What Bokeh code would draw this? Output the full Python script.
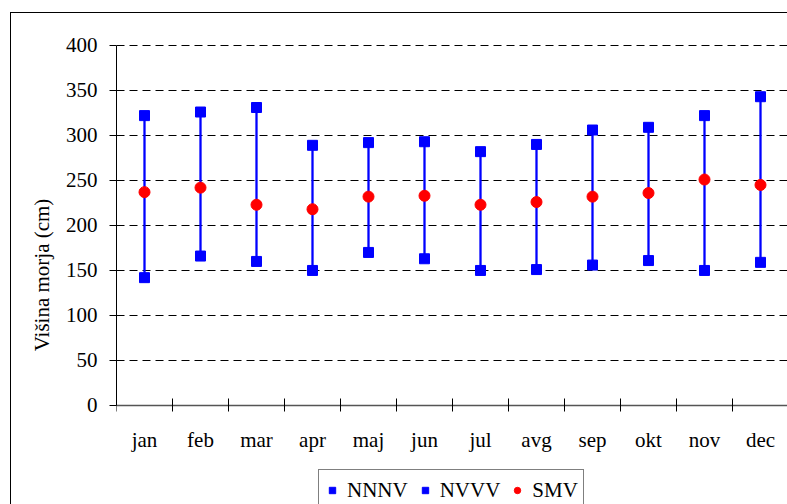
from bokeh.plotting import figure
from bokeh.models import (Range1d, FixedTicker, Legend, LegendItem, ColumnDataSource)
from bokeh.embed import file_html
from bokeh.resources import INLINE

months = ["jan", "feb", "mar", "apr", "maj", "jun", "jul", "avg", "sep", "okt", "nov", "dec"]
nnnv = [142, 166, 160, 150, 170, 163, 150, 151, 156, 161, 150, 159]
nvvv = [322, 326, 331, 289, 292, 293, 282, 290, 306, 309, 322, 343]
smv = [237, 242, 223, 218, 232, 233, 223, 226, 232, 236, 251, 245]
y_ticks = [0, 50, 100, 150, 200, 250, 300, 350, 400]

FONT = "Liberation Serif"
BLUE = "#0000FF"
RED = "#FF0000"

xs = [i + 0.5 for i in range(len(months))]
src = ColumnDataSource(dict(x=xs, lo=nnnv, hi=nvvv, mid=smv))

# frame reaches the bottom of the figure; the x axis sits at y = 0 inside it
p = figure(width=777, height=492, x_range=Range1d(0, len(months)), y_range=Range1d(-111.1, 401),
           output_backend="svg", toolbar_location=None,
           min_border_left=105, min_border_right=0, min_border_top=31, min_border_bottom=0)
p.margin = (12, 0, 0, 10)
p.outline_line_color = None
p.background_fill_color = "white"
p.border_fill_color = "white"
p.styles = {"border-top": "1.5px solid black", "border-left": "1.5px solid black"}

# axes
p.yaxis.bounds = (0, 400)
p.yaxis.ticker = FixedTicker(ticks=y_ticks)
p.yaxis.major_tick_out = 7
p.yaxis.major_tick_in = 0
p.yaxis.minor_tick_out = 0
p.yaxis.minor_tick_in = 0
p.yaxis.axis_line_color = "black"
p.yaxis.major_tick_line_color = "black"
p.yaxis.major_label_text_font = FONT
p.yaxis.major_label_text_font_size = "21px"
p.yaxis.major_label_text_color = "black"
p.yaxis.major_label_standoff = 12
p.yaxis.axis_label = "Višina morja (cm)"
p.yaxis.axis_label_text_font = FONT
p.yaxis.axis_label_text_font_size = "21px"
p.yaxis.axis_label_text_font_style = "normal"
p.yaxis.axis_label_text_color = "black"
p.yaxis.axis_label_standoff = 9

p.xaxis.fixed_location = 0
p.xaxis.ticker = FixedTicker(ticks=xs, minor_ticks=list(range(len(months) + 1)))
p.xaxis.major_label_overrides = {x: m for x, m in zip(xs, months)}
p.xaxis.major_tick_in = 0
p.xaxis.major_tick_out = 0
p.xaxis.minor_tick_in = 7
p.xaxis.minor_tick_out = 6
p.xaxis.minor_tick_line_color = "black"
p.xaxis.axis_line_color = "#555555"
p.xaxis.axis_line_width = 1.5
p.xaxis.major_label_text_font = FONT
p.xaxis.major_label_text_font_size = "21px"
p.xaxis.major_label_text_color = "black"
p.xaxis.major_label_standoff = 17

p.xgrid.visible = False
p.ygrid.ticker = FixedTicker(ticks=y_ticks[1:])
p.ygrid.grid_line_color = "black"
p.ygrid.grid_line_dash = "8 5"
p.ygrid.grid_line_width = 1

# glyphs
p.segment(x0="x", y0="lo", x1="x", y1="hi", source=src, line_color=BLUE, line_width=2.3)
r_lo = p.scatter("x", "lo", source=src, marker="square", size=10, fill_color=BLUE, line_color=BLUE)
r_hi = p.scatter("x", "hi", source=src, marker="square", size=10, fill_color=BLUE, line_color=BLUE)
r_mid = p.scatter("x", "mid", source=src, marker="circle", size=11, fill_color=RED, line_color=RED)

legend = Legend(items=[LegendItem(label="NNNV", renderers=[r_lo]),
                       LegendItem(label="NVVV", renderers=[r_hi]),
                       LegendItem(label="SMV", renderers=[r_mid])],
                orientation="horizontal", location=(202, -6))
legend.border_line_color = "black"
legend.border_line_width = 1
legend.background_fill_color = "white"
legend.background_fill_alpha = 1
legend.label_text_font = FONT
legend.label_text_font_size = "21px"
legend.label_text_color = "black"
legend.padding = 5
legend.margin = 0
legend.glyph_width = 16
legend.glyph_height = 20
legend.label_height = 30
legend.label_standoff = 7
legend.spacing = 9
p.add_layout(legend, "center")

open("out.html", "w").write(file_html(p, INLINE))
